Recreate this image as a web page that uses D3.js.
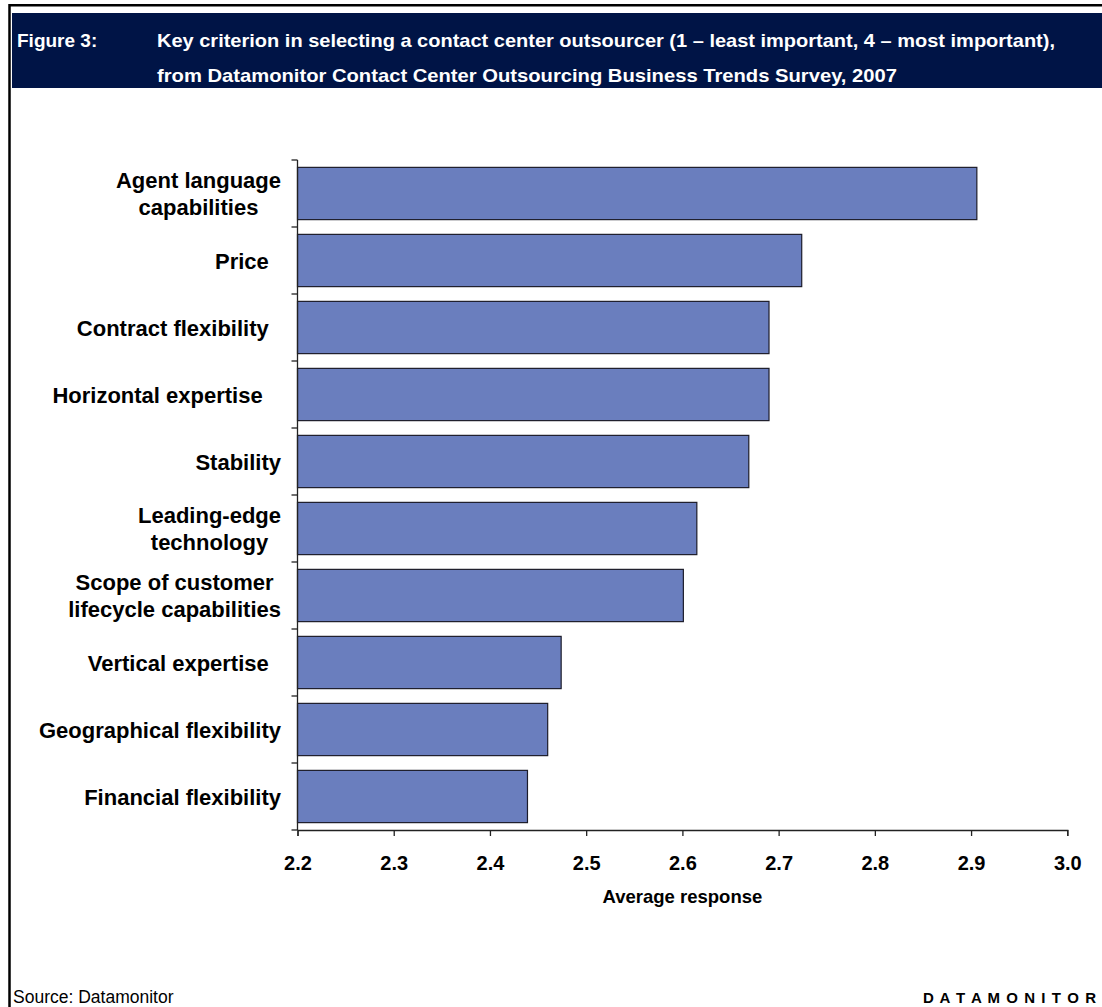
<!DOCTYPE html>
<html lang="en">
<head>
<meta charset="UTF-8">
<title>Contact center outsourcer criteria</title>
<script src="https://d3js.org/d3.v7.min.js"></script>
<style>
  body { margin: 0; background: #fff; }
  svg { display: block; font-family: "Liberation Sans", Arial, sans-serif; }
  .lbl { white-space: pre; }
</style>
</head>
<body>
<svg id="canvas" width="1102" height="1007"></svg>
<script>
// chart data, top to bottom
let categories = [
  ["Agent language", "capabilities"],
  ["Price  "],
  ["Contract flexibility  "],
  ["Horizontal expertise   "],
  ["Stability"],
  ["Leading-edge", "technology"],
  ["Scope of customer", "lifecycle capabilities"],
  ["Vertical expertise  "],
  ["Geographical flexibility"],
  ["Financial flexibility"]
]
let values = [2.906, 2.724, 2.690, 2.690, 2.669, 2.615, 2.601, 2.474, 2.460, 2.439]
let xTicks = [2.2, 2.3, 2.4, 2.5, 2.6, 2.7, 2.8, 2.9, 3.0]
let titleLines = [
  "Key criterion in selecting a contact center outsourcer (1 \u2013 least important, 4 \u2013 most important),",
  "from Datamonitor Contact Center Outsourcing Business Trends Survey, 2007"
]

let svg = d3.select('#canvas')

// frame + header band
svg.append('path')
   .attr('d', 'M9.5,1007 V5.2 H1102')
   .attr('fill', 'none')
   .attr('stroke', '#000')
   .attr('stroke-width', 2.5)
svg.append('rect')
   .attr('x', 12).attr('y', 13)
   .attr('width', 1090).attr('height', 75)
   .attr('fill', '#001446')

svg.append('text')
   .attr('x', 17).attr('y', 47)
   .attr('fill', '#fff').attr('font-weight', 'bold').attr('font-size', 19)
   .text('Figure 3:')
svg.append('text')
   .attr('x', 157).attr('y', 47)
   .attr('fill', '#fff').attr('font-weight', 'bold').attr('font-size', 19)
   .attr('textLength', 898).attr('lengthAdjust', 'spacingAndGlyphs')
   .text(titleLines[0])
svg.append('text')
   .attr('x', 157).attr('y', 82)
   .attr('fill', '#fff').attr('font-weight', 'bold').attr('font-size', 19)
   .attr('textLength', 740).attr('lengthAdjust', 'spacingAndGlyphs')
   .text(titleLines[1])

// scales
let x = d3.scaleLinear().domain([2.2, 3.0]).range([297.5, 1067.3])
let y = d3.scaleBand()
  .domain(d3.range(categories.length))
  .range([160, 830])
  .paddingInner(0.22)
  .paddingOuter(0.11)

// bars
svg.selectAll('rect.bar')
   .data(values)
   .enter()
   .append('rect')
   .attr('class', 'bar')
   .attr('x', x(2.2))
   .attr('y', (d, i) => y(i))
   .attr('width', d => x(d) - x(2.2))
   .attr('height', y.bandwidth())
   .attr('fill', '#6A7EBE')
   .attr('stroke', '#1c1c2a')
   .attr('stroke-width', 1.2)

// y axis: line + ticks at band boundaries
let step = y.step()
let y0 = y.range()[0]
svg.append('line')
   .attr('x1', x(2.2)).attr('x2', x(2.2))
   .attr('y1', y0).attr('y2', y.range()[1])
   .attr('stroke', '#222').attr('stroke-width', 1.3)
svg.selectAll('line.ytick')
   .data(d3.range(categories.length + 1))
   .enter()
   .append('line')
   .attr('class', 'ytick')
   .attr('x1', x(2.2) - 6).attr('x2', x(2.2))
   .attr('y1', i => y0 + i * step).attr('y2', i => y0 + i * step)
   .attr('stroke', '#222').attr('stroke-width', 1.3)

// category labels
let labelRight = 281
categories.forEach((lines, i) => {
  let cy = y(i) + y.bandwidth() / 2
  let g = svg.append('g')
  let lh = 26.5
  let texts = lines.map((t, k) => g.append('text')
      .attr('class', 'lbl')
      .attr('font-weight', 'bold')
      .attr('font-size', 22)
      .attr('fill', '#000')
      .attr('y', cy + 8 + (k - (lines.length - 1) / 2) * lh)
      .text(t))
  if (lines.length === 1) {
    texts[0].attr('x', labelRight).attr('text-anchor', 'end')
  } else {
    let w = d3.max(texts, t => t.node().getComputedTextLength())
    texts.forEach(t => t.attr('x', labelRight - w / 2).attr('text-anchor', 'middle'))
  }
})

// x axis
let xAxis = d3.axisBottom(x)
  .tickValues(xTicks)
  .tickSize(6)
  .tickPadding(20)
  .tickFormat(d3.format('.1f'))
let gx = svg.append('g')
  .attr('transform', 'translate(0,830)')
  .call(xAxis)
gx.select('.domain').attr('stroke', '#222').attr('stroke-width', 1.3)
gx.selectAll('.tick line').attr('stroke', '#222').attr('stroke-width', 1.3)
gx.selectAll('.tick text')
  .attr('font-family', '"Liberation Sans", Arial, sans-serif')
  .attr('font-size', 20)
  .attr('font-weight', 'bold')
  .attr('fill', '#000')

svg.append('text')
   .attr('x', (x(2.2) + x(3.0)) / 2).attr('y', 903)
   .attr('text-anchor', 'middle')
   .attr('font-weight', 'bold').attr('font-size', 18.5)
   .text('Average response')

// footer
svg.append('text')
   .attr('x', 13).attr('y', 1003)
   .attr('font-size', 17.5)
   .text('Source: Datamonitor')
svg.append('text')
   .attr('x', 1096).attr('y', 1003)
   .attr('text-anchor', 'end')
   .attr('font-weight', 'bold').attr('font-size', 15)
   .attr('textLength', 173).attr('lengthAdjust', 'spacing')
   .text('D A T A M O N I T O R')
</script>
</body>
</html>
